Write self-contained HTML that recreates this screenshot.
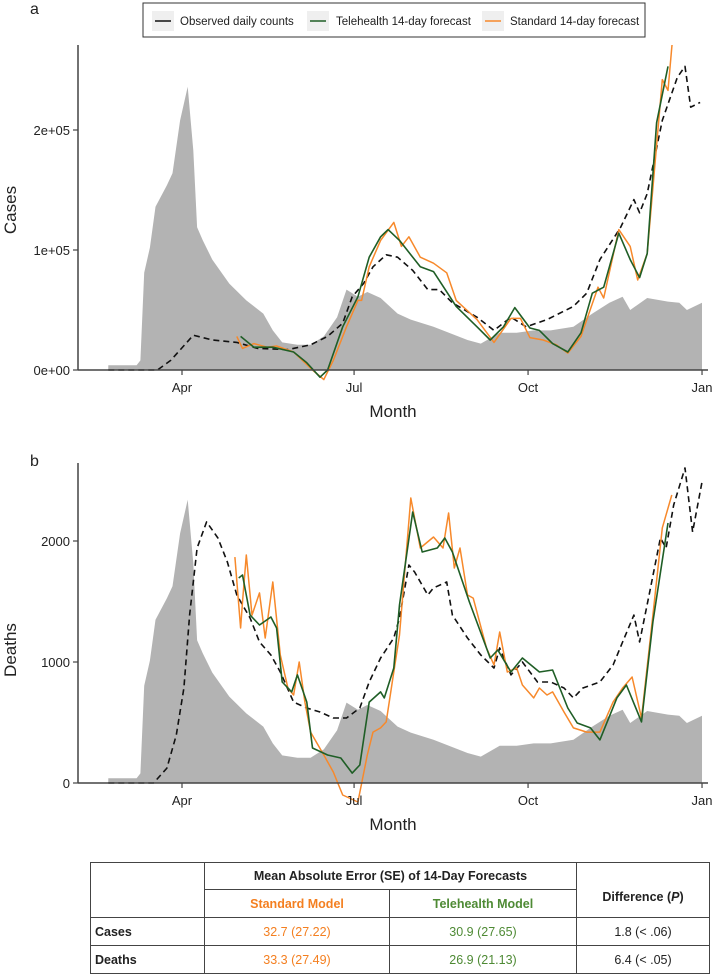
<!DOCTYPE html>
<html><head><meta charset="utf-8">
<style>
body{margin:0;background:#fff;font-family:"Liberation Sans",sans-serif;}
#wrap{position:relative;width:714px;height:975px;overflow:hidden;}
svg{position:absolute;left:0;top:0;}
table{position:absolute;left:90px;top:862px;border-collapse:collapse;font-family:"Liberation Sans",sans-serif;font-size:12.5px;color:#222;}
td{border:1.5px solid #444;text-align:center;padding:0;}
.hd{font-weight:bold;}
.or{color:#f47f20;}
.gr{color:#4e8a34;}
</style></head><body>
<div id="wrap">
<svg id="chart" width="714" height="975"></svg>
<table>
<tr style="height:27px"><td rowspan="2" style="width:113px"></td><td colspan="2" class="hd">Mean Absolute Error (SE) of 14-Day Forecasts</td><td rowspan="2" class="hd" style="width:132px;padding-top:14px">Difference (<i>P</i>)</td></tr>
<tr style="height:28px"><td class="hd or" style="width:184px">Standard Model</td><td class="hd gr" style="width:186px">Telehealth Model</td></tr>
<tr style="height:28px"><td class="hd" style="text-align:left;padding-left:4px">Cases</td><td class="or">32.7 (27.22)</td><td class="gr">30.9 (27.65)</td><td>1.8 (&lt; .06)</td></tr>
<tr style="height:28px"><td class="hd" style="text-align:left;padding-left:4px">Deaths</td><td class="or">33.3 (27.49)</td><td class="gr">26.9 (21.13)</td><td>6.4 (&lt; .05)</td></tr>
</table>
</div>
<script>
// ---- data (day of year 2020) ----
const grayDays=[52,67,69,71,74,77,83,86,90,94,97,99,102,107,116,125,134,139,144,152,159,166,173,178,184,189,196,205,212,224,242,249,259,268,277,286,298,308,317,324,328,337,348,354,358,366];
const grayVals=[4,4,8,81,102,136,154,164,208,236,183,119,108,92,72,58,47,33,23,21,21,28,44,67,61,65,60,47,42,36,25,22,31,31,33,33,36,47,56,61,50,60,57,56,50,56];
const obsCaseDays=[52,78,85,97,107,120,131,147,159,168,176,181,187,192,199,205,213,221,227,234,247,256,265,273,284,298,305,312,323,330,333,337,345,353,357,360,365];
const obsCaseVals=[0,0,8,29,25,23,18,17,21,28,39,61,72,86,96,94,83,67,67,56,44,33,44,36,42,53,64,92,119,142,131,147,208,244,253,219,223];
const teleCaseDays=[122,129,139,150,157,164,168,176,184,190,196,200,206,217,224,236,247,254,261,267,275,280,287,295,302,308,314,322,328,333,337,342,348];
const teleCaseVals=[28,19,19,15,6,-6,0,36,61,94,111,117,108,86,82,53,36,25,36,52,35,33,22,15,31,64,69,114,92,77,97,206,253];
const stdCaseDays=[120,123,129,136,141,150,160,166,171,178,184,186,190,196,203,207,211,217,224,231,236,247,256,265,270,275,282,289,295,302,311,314,322,328,332,337,345,348,350,352];
const stdCaseVals=[28,18,22,19,20,15,0,-8,8,36,58,58,86,108,123,103,111,94,89,81,58,42,23,43,43,27,25,21,14,28,69,60,117,103,75,97,242,233,269,300];
const obsDeathDays=[52,76,83,88,92,95,99,104,110,115,120,127,132,138,143,150,157,164,171,178,185,190,196,203,206,211,214,221,224,231,234,242,249,256,259,265,271,279,286,293,298,303,312,319,324,330,333,338,344,347,351,357,361,366];
const obsDeathVals=[0,0,123,397,785,1388,1942,2158,2025,1826,1554,1364,1165,1058,917,669,620,587,537,537,620,835,1033,1198,1364,1802,1744,1554,1612,1661,1388,1198,1058,950,1116,893,1000,835,835,785,703,785,835,975,1165,1388,1165,1554,2025,1942,2298,2603,2074,2488];
const teleDeathDays=[121,123,127,132,138,141,144,149,152,157,160,168,175,181,185,190,196,198,203,206,213,218,226,230,234,243,254,258,265,271,280,287,295,300,307,312,321,326,334,340,348];
const teleDeathVals=[1694,1719,1388,1306,1372,1281,835,753,893,669,289,231,207,82,149,669,753,703,950,1471,2240,1909,1942,2025,1909,1496,1033,1099,917,1033,917,934,620,496,455,356,703,810,505,1331,2149];
const stdDeathDays=[119,122,123,125,128,132,135,139,143,147,150,153,156,159,166,171,176,184,189,192,196,199,203,206,212,217,224,229,232,235,238,242,245,252,256,259,263,268,271,277,280,284,287,293,298,305,312,319,324,329,334,340,345,350];
const stdDeathVals=[1867,1281,1496,1884,1388,1571,1198,1661,1058,785,727,1000,669,421,231,91,-99,-157,231,421,455,505,917,1223,2355,1942,2033,1942,2231,1777,1942,1554,1528,1116,975,1248,917,950,810,703,785,727,753,587,455,421,421,669,785,876,537,1388,2108,2380];
const monthTicks=[91,182,274,366];
const monthLabels=["Apr","Jul","Oct","Jan"];
const caseTicks=[0,100,200];
const caseTickLabels=["0e+00","1e+05","2e+05"];
const deathTicks=[0,1000,2000];
const deathTickLabels=["0","1000","2000"];

const NS="http://www.w3.org/2000/svg";
const svg=document.getElementById('chart');
function mk(t,a,p){const e=document.createElementNS(NS,t);for(const k in a)e.setAttribute(k,a[k]);(p||svg).appendChild(e);return e;}
const X0=78,X1=708;
function xs(d){return 182+(d-91)*1.891;}
function txt(s,x,y,o,p){const e=mk('text',Object.assign({x:x,y:y,'font-family':'Liberation Sans, sans-serif','font-size':13,fill:'#222'},o||{}),p);e.textContent=s;return e;}

function panel(cfg){
  const g=mk('g',{});
  
  
  const base=cfg.base;
  const ys=v=>base-v*cfg.k;
  const clipId='clip'+cfg.name;
  const cp=mk('clipPath',{id:clipId},g);mk('rect',{x:X0,y:cfg.top,width:X1-X0,height:base+40-cfg.top},cp);
  let d='M'+xs(grayDays[0])+','+base;
  grayDays.forEach((dd,i)=>{d+=' L'+xs(dd).toFixed(1)+','+(base-grayVals[i]*1.2).toFixed(1);});
  d+=' L'+xs(grayDays[grayDays.length-1])+','+base+' Z';
  const ga=mk('path',{d:d,fill:'#b3b3b3'},g);
  
  
  function line(days,vals,col,w,dash,nm){
    let p='';days.forEach((dd,i)=>{p+=(i?' L':'M')+xs(dd).toFixed(1)+','+ys(vals[i]).toFixed(1);});
    const o={d:p,fill:'none',stroke:col,'stroke-width':w,'stroke-linejoin':'round','clip-path':'url(#'+clipId+')'};
    if(dash)o['stroke-dasharray']=dash;
    const e=mk('path',o,g);
    
    
  }
  line(cfg.obsD,cfg.obsV,'#111',1.6,'6,4','observed-line');
  line(cfg.stdD,cfg.stdV,'#f7892b',1.5,null,'standard-forecast-line');
  line(cfg.teleD,cfg.teleV,'#1f5e26',1.6,null,'telehealth-forecast-line');
  mk('line',{x1:X0,y1:cfg.top,x2:X0,y2:base,stroke:'#444','stroke-width':1.5},g);
  mk('line',{x1:X0,y1:base,x2:X1,y2:base,stroke:'#444','stroke-width':1.5},g);
  cfg.ticks.forEach((t,i)=>{
    mk('line',{x1:X0-5,y1:ys(t),x2:X0,y2:ys(t),stroke:'#444','stroke-width':1.2},g);
    const e=txt(cfg.tickLabels[i],X0-8,ys(t)+5,{'text-anchor':'end'},g);
    
    
  });
  monthTicks.forEach((m,i)=>{
    mk('line',{x1:xs(m),y1:base,x2:xs(m),y2:base+5,stroke:'#444','stroke-width':1.2},g);
    const e=txt(monthLabels[i],xs(m),base+22,{'text-anchor':'middle'},g);
    
    
  });
  const xt=txt('Month',393,base+47,{'text-anchor':'middle','font-size':17},g);
  
  
  const yt=txt(cfg.ylab,0,0,{'text-anchor':'middle','font-size':17,transform:'translate(16,'+cfg.ylabY+') rotate(-90)'},g);
  
  
  const pl=txt(cfg.letter,30,cfg.letterY,{'font-size':16},g);
  
  
}
panel({name:'cases-panel',base:370,top:45,k:1.2,obsD:obsCaseDays,obsV:obsCaseVals,teleD:teleCaseDays,teleV:teleCaseVals,stdD:stdCaseDays,stdV:stdCaseVals,ticks:caseTicks,tickLabels:caseTickLabels,ylab:'Cases',ylabY:210,letter:'a',letterY:14});
panel({name:'deaths-panel',base:783,top:463,k:0.121,obsD:obsDeathDays,obsV:obsDeathVals,teleD:teleDeathDays,teleV:teleDeathVals,stdD:stdDeathDays,stdV:stdDeathVals,ticks:deathTicks,tickLabels:deathTickLabels,ylab:'Deaths',ylabY:650,letter:'b',letterY:466});

const lg=mk('g',{});


mk('rect',{x:143,y:3,width:502,height:34,fill:'#fff',stroke:'#333','stroke-width':1},lg);
const entries=[['Observed daily counts','#111',152,180],['Telehealth 14-day forecast','#1f5e26',307,336],['Standard 14-day forecast','#f7892b',482,510]];
entries.forEach(en=>{
  const eg=mk('g',{},lg);
  
  
  mk('rect',{x:en[2],y:11,width:22,height:20,fill:'#efefef'},eg);
  mk('line',{x1:en[2]+3,y1:21,x2:en[2]+19,y2:21,stroke:en[1],'stroke-width':1.5},eg);
  txt(en[0],en[3],25,{'font-size':11.5},eg);
});
</script>
</body></html>
